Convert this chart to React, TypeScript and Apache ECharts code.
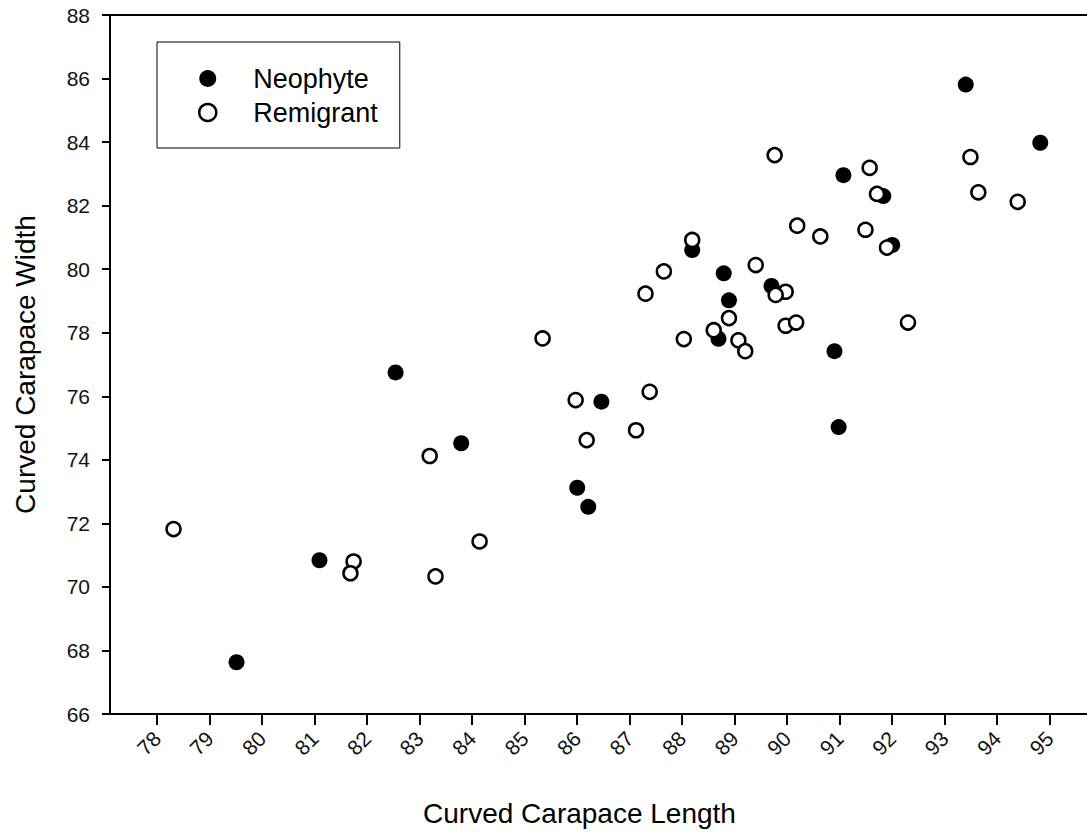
import React, { useEffect, useRef } from "react";
import * as echarts from "echarts";

const neophyteLength = [82.54, 83.79, 81.09, 79.51, 88.19, 88.79, 89.7, 88.89, 88.69, 86.46, 86.0, 86.21, 93.4, 94.82, 91.07, 91.83, 92.0, 90.9, 90.98];
const neophyteWidth = [76.75, 74.52, 70.84, 67.63, 80.6, 79.87, 79.47, 79.02, 77.81, 75.83, 73.12, 72.52, 85.81, 83.98, 82.96, 82.3, 80.76, 77.42, 75.03];

const remigrantLength = [83.19, 78.31, 81.74, 81.68, 83.3, 84.14, 88.19, 87.65, 89.4, 89.97, 89.78, 87.3, 88.89, 85.34, 88.03, 88.6, 89.07, 89.2, 89.97, 90.17, 87.38, 85.97, 87.12, 86.18, 89.76, 93.49, 91.57, 91.71, 93.64, 94.39, 90.19, 90.63, 91.49, 91.9, 92.3];
const remigrantWidth = [74.12, 71.82, 70.8, 70.43, 70.33, 71.43, 80.92, 79.93, 80.13, 79.29, 79.19, 79.23, 78.46, 77.82, 77.8, 78.08, 77.76, 77.42, 78.22, 78.32, 76.14, 75.88, 74.93, 74.62, 83.59, 83.53, 83.19, 82.37, 82.42, 82.12, 81.37, 81.03, 81.24, 80.68, 78.32];

const xTicks = [78, 79, 80, 81, 82, 83, 84, 85, 86, 87, 88, 89, 90, 91, 92, 93, 94, 95];

const seriesNames = ["Neophyte", "Remigrant"];

const FONT = "'Liberation Sans', Arial, sans-serif";

export default function App() {
  const ref = useRef<HTMLDivElement>(null);
  useEffect(() => {
    if (!ref.current) return;
    const chart = echarts.init(ref.current, undefined, { renderer: "svg" });
    const neo = neophyteLength.map((x, i) => [x, neophyteWidth[i]]);
    const rem = remigrantLength.map((x, i) => [x, remigrantWidth[i]]);
    chart.setOption({
      animation: false,
      backgroundColor: "#fff",
      grid: { left: 110, top: 15, right: 0, bottom: 118, containLabel: false },
      legend: {
        orient: "vertical",
        left: 157,
        top: 42,
        padding: [23, 22, 22, 41],
        borderColor: "#000",
        borderWidth: 1,
        itemWidth: 17,
        itemHeight: 17,
        itemGap: 7,
        textStyle: { fontSize: 27, fontFamily: FONT, color: "#000", lineHeight: 27, padding: [0, 0, 0, 32] },
        data: [
          { name: seriesNames[0], icon: "circle", itemStyle: { color: "#000", borderWidth: 0 } },
          { name: seriesNames[1], icon: "circle", itemStyle: { color: "#fff", borderColor: "#000", borderWidth: 2.5 } },
        ],
      },
      xAxis: [
        {
          type: "value",
          min: 77.1,
          max: 95.71,
          position: "bottom",
          splitLine: { show: false },
          axisLine: { show: true, lineStyle: { color: "#000", width: 2 } },
          axisTick: { show: true, inside: false, length: 11, lineStyle: { color: "#000", width: 2 }, customValues: xTicks },
          axisLabel: {
            customValues: xTicks,
            rotate: 45,
            margin: 21,
            fontSize: 21,
            fontFamily: FONT,
            color: "#111",
          },
          name: "Curved Carapace Length",
          nameLocation: "middle",
          nameGap: 85,
          nameTextStyle: { fontSize: 28, fontFamily: FONT, color: "#000", padding: [0, 38, 0, 0] },
        },
        {
          type: "value",
          min: 77.1,
          max: 95.71,
          position: "top",
          splitLine: { show: false },
          axisLine: { show: true, lineStyle: { color: "#000", width: 2 } },
          axisTick: { show: false },
          axisLabel: { show: false },
        },
      ],
      yAxis: {
        type: "value",
        min: 66,
        max: 88,
        interval: 2,
        splitLine: { show: false },
        axisLine: { show: true, lineStyle: { color: "#000", width: 2 } },
        axisTick: { show: true, inside: false, length: 8, lineStyle: { color: "#000", width: 2 } },
        axisLabel: { margin: 20, fontSize: 21, fontFamily: FONT, color: "#111" },
        name: "Curved Carapace Width",
        nameLocation: "middle",
        nameGap: 71,
        nameTextStyle: { fontSize: 28, fontFamily: FONT, color: "#000" },
      },
      series: [
        {
          name: seriesNames[0],
          type: "scatter",
          xAxisIndex: 0,
          data: neo,
          symbol: "circle",
          symbolSize: 16,
          itemStyle: { color: "#000", opacity: 1 },
          z: 2,
        },
        {
          name: seriesNames[1],
          type: "scatter",
          xAxisIndex: 0,
          data: rem,
          symbol: "circle",
          symbolSize: 14,
          itemStyle: { color: "#fff", borderColor: "#000", borderWidth: 2.5, opacity: 1 },
          z: 3,
        },
      ],
    });
    return () => chart.dispose();
  }, []);
  return (
    <div
      ref={ref}
      style={{ position: "fixed", left: 0, top: 0, width: 1087, height: 832, background: "#fff" }}
    />
  );
}
